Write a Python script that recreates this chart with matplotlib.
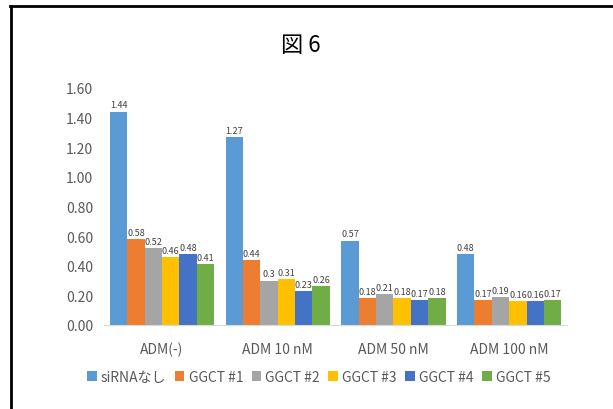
import numpy as np
import matplotlib.pyplot as plt
from matplotlib.lines import Line2D

plt.rcParams['font.family'] = ['Noto Sans CJK JP', 'DejaVu Sans']

# data
categories = ['ADM(-)', 'ADM 10 nM', 'ADM 50 nM', 'ADM 100 nM']
series_names = ['siRNAなし', 'GGCT #1', 'GGCT #2', 'GGCT #3', 'GGCT #4', 'GGCT #5']
values = [
    [1.44, 1.27, 0.57, 0.48],
    [0.58, 0.44, 0.18, 0.17],
    [0.52, 0.30, 0.21, 0.19],
    [0.46, 0.31, 0.18, 0.16],
    [0.48, 0.23, 0.17, 0.16],
    [0.41, 0.26, 0.18, 0.17],
]
value_labels = [
    ['1.44', '1.27', '0.57', '0.48'],
    ['0.58', '0.44', '0.18', '0.17'],
    ['0.52', '0.3', '0.21', '0.19'],
    ['0.46', '0.31', '0.18', '0.16'],
    ['0.48', '0.23', '0.17', '0.16'],
    ['0.41', '0.26', '0.18', '0.17'],
]
colors = ['#5B9BD5', '#ED7D31', '#A5A5A5', '#FFC000', '#4472C4', '#70AD47']
yticks = [0.0, 0.2, 0.4, 0.6, 0.8, 1.0, 1.2, 1.4, 1.6]

fig = plt.figure(figsize=(6.13, 4.10), dpi=100)
ax = fig.add_axes([0.170, 0.205, 0.755, 0.578])

x = np.arange(len(categories))
bar_w = 0.15
for i, (name, vals) in enumerate(zip(series_names, values)):
    pos = x + (i - 2.5) * bar_w
    bars = ax.bar(pos, vals, width=bar_w, color=colors[i], label=name)
    for b, lab in zip(bars, value_labels[i]):
        ax.text(b.get_x() + b.get_width() / 2, b.get_height() + 0.015, lab,
                ha='center', va='bottom', fontsize=6.5, color='#404040')

ax.set_xlim(-0.5, len(categories) - 0.5)
ax.set_ylim(0, 1.6)
ax.set_yticks(yticks)
ax.set_yticklabels(['{:.2f}'.format(t) for t in yticks], fontsize=10,
                   color='#595959')
ax.set_xticks(x)
ax.set_xticklabels(categories, fontsize=10, color='#595959')
ax.tick_params(axis='both', length=0, pad=8)
ax.tick_params(axis='x', pad=12)
for s in ['top', 'right', 'left']:
    ax.spines[s].set_visible(False)
ax.spines['bottom'].set_color('#D9D9D9')

fig.text(0.49, 0.89, '図 6', ha='center', va='center', fontsize=16)

leg = fig.legend(loc='center', bbox_to_anchor=(0.52, 0.078), ncol=6,
                 frameon=False, fontsize=10, handlelength=0.7,
                 handleheight=0.7, handletextpad=0.3, columnspacing=0.6)
for t in leg.get_texts():
    t.set_color('#595959')

# outer frame (top and left edges visible)
fig.add_artist(Line2D([0.017, 1.0], [0.982, 0.982], color='black', lw=2,
                      transform=fig.transFigure))
fig.add_artist(Line2D([0.018, 0.018], [0.0, 0.982], color='black', lw=2,
                      transform=fig.transFigure))

fig.savefig('out.png', dpi=100, facecolor='white')
